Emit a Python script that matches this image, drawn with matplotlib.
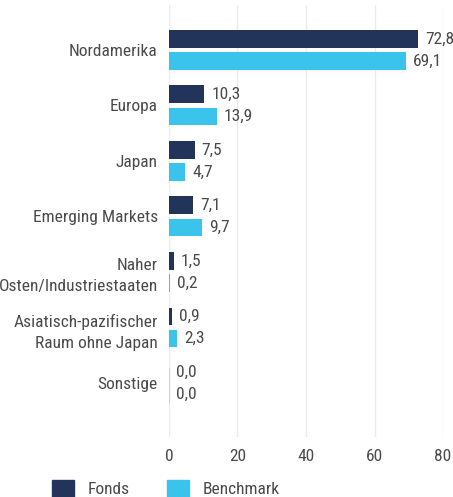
import numpy as np
from matplotlib import pyplot as plt
from matplotlib import font_manager
from matplotlib.patches import Patch

# Data
#------------------------------------------------------------------------------
regions = ["Nordamerika", "Europa", "Japan", "Emerging Markets",
           "Naher\nOsten/Industriestaaten",
           "Asiatisch-pazifischer\nRaum ohne Japan", "Sonstige"]
fonds = [72.8, 10.3, 7.5, 7.1, 1.5, 0.9, 0.0]
benchmark = [69.1, 13.9, 4.7, 9.7, 0.2, 2.3, 0.0]
xticks = [0, 20, 40, 60, 80]
#------------------------------------------------------------------------------

c_fonds = "#22345a"
c_bench = "#3ac4ec"
c_text = "#4a4a4a"

# pick a condensed face if one is installed
names = {f.name for f in font_manager.fontManager.ttflist}
if "Roboto Condensed" in names:
    plt.rcParams['font.family'] = ['Roboto Condensed', 'DejaVu Sans']
    fsize = 12.5
else:
    plt.rcParams['font.family'] = ['DejaVu Sans']
    plt.rcParams['font.stretch'] = 'condensed'
    fsize = 10.5


def fmt(v):
    return "{:.1f}".format(v).replace(".", ",")


def main():
    fig = plt.figure(figsize=(4.53, 4.97), dpi=100)
    ax = fig.add_axes([0.373, 0.121, 0.605, 0.869])

    y = np.arange(len(regions))
    h = 0.32
    b1 = ax.barh(y - 0.2, fonds, height=h, color=c_fonds)
    b2 = ax.barh(y + 0.2, benchmark, height=h, color=c_bench)
    ax.bar_label(b1, labels=[fmt(v) for v in fonds], padding=5,
                 fontsize=fsize, color=c_text)
    ax.bar_label(b2, labels=[fmt(v) for v in benchmark], padding=5,
                 fontsize=fsize, color=c_text)
    # hairline at zero like the source shows for empty bars
    ax.axvline(0, ymin=0.08, ymax=0.16, color="#d0d0d0", linewidth=0.8)

    ax.set_xlim(0, 80)
    ax.set_ylim(6.97, -0.81)
    ax.set_xticks(xticks)
    ax.set_xticklabels([str(t) for t in xticks], fontsize=fsize, color=c_text)
    ax.set_yticks(y)
    ax.set_yticklabels(regions, fontsize=fsize, color=c_text, linespacing=1.5)
    ax.tick_params(length=0, pad=8)
    ax.tick_params(axis='x', pad=9)
    ax.grid(axis='x', color="#ebebeb", linewidth=1)
    ax.set_axisbelow(True)
    for s in ax.spines.values():
        s.set_visible(False)

    handles = [Patch(color=c_fonds, label="Fonds"),
               Patch(color=c_bench, label="Benchmark")]
    fig.legend(handles=handles, loc="lower left", bbox_to_anchor=(52 / 453, 0.0),
               ncol=2, frameon=False, fontsize=fsize, labelcolor=c_text,
               borderpad=0, borderaxespad=0,
               handlelength=1.27, handleheight=1.15, columnspacing=2.1,
               handletextpad=0.8)

    fig.savefig("out.png", dpi=100)


if __name__ == "__main__":
    main()
